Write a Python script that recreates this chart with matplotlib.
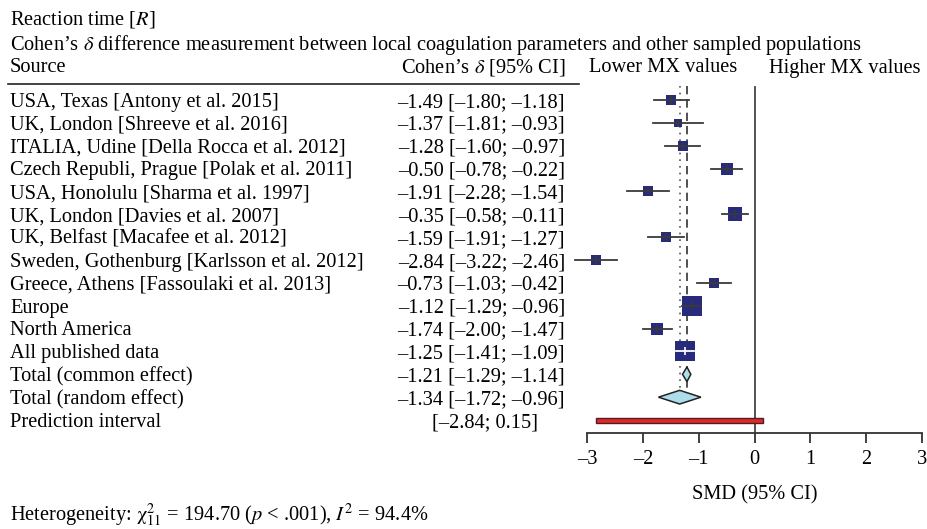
import matplotlib
matplotlib.use("Agg")
import matplotlib.pyplot as plt
import matplotlib.transforms as mtransforms
from matplotlib.patches import Polygon, Rectangle
import numpy as np

plt.rcParams['font.family'] = ['Liberation Serif', 'DejaVu Serif']
plt.rcParams['mathtext.fontset'] = 'stix'

# study rows
sources = ['USA, Texas [Antony et al. 2015]',
           'UK, London [Shreeve et al. 2016]',
           'ITALIA, Udine [Della Rocca et al. 2012]',
           'Czech Republi, Prague [Polak et al. 2011]',
           'USA, Honolulu [Sharma et al. 1997]',
           'UK, London [Davies et al. 2007]',
           'UK, Belfast [Macafee et al. 2012]',
           'Sweden, Gothenburg [Karlsson et al. 2012]',
           'Greece, Athens [Fassoulaki et al. 2013]',
           'Europe',
           'North America',
           'All published data']
est = [-1.49, -1.37, -1.28, -0.50, -1.91, -0.35, -1.59, -2.84, -0.73, -1.12, -1.74, -1.25]
lo = [-1.80, -1.81, -1.60, -0.78, -2.28, -0.58, -1.91, -3.22, -1.03, -1.29, -2.00, -1.41]
hi = [-1.18, -0.93, -0.97, -0.22, -1.54, -0.11, -1.27, -2.46, -0.42, -0.96, -1.47, -1.09]
weight = [10.0, 7.0, 10.0, 14.4, 10.0, 19.6, 12.1, 9.0, 12.1, 40.0, 16.9, 40.0]

# pooled rows
pooled_labels = ['Total (common effect)', 'Total (random effect)']
pooled_est = [-1.21, -1.34]
pooled_lo = [-1.29, -1.72]
pooled_hi = [-1.14, -0.96]

pred_lo, pred_hi = -2.84, 0.15

W, H = 928, 529
fig = plt.figure(figsize=(W / 100, H / 100), dpi=100)

def fx(px):
    return px / W

def fy(py):
    return 1 - py / H

row0, rowh = 100, 22.86
ax_top, ax_bot = 85, 433
ax = fig.add_axes([fx(587), fy(ax_bot), fx(922) - fx(587), fy(ax_top) - fy(ax_bot)])
ax.set_xlim(-3, 3)
ax.set_ylim(-(ax_bot - row0) / rowh, -(ax_top - row0) / rowh)
for s in ['top', 'right', 'left']:
    ax.spines[s].set_visible(False)
ax.spines['bottom'].set_color('#333333')
ax.spines['bottom'].set_linewidth(1.3)
ax.set_yticks([])
fs = 14.7
ticks = np.arange(-3, 4)
ax.set_xticks(ticks)
ax.set_xticklabels([str(t).replace('-', '\u2013') for t in ticks], fontsize=fs)
ax.tick_params(axis='x', length=7, width=1.3, color='#333333', pad=5)
ax.set_xlabel('SMD (95% CI)', fontsize=fs, labelpad=12)

n = len(sources)
ys = -np.arange(n)
ytop = 0.55
# reference lines
ax.plot([0, 0], [ytop, ax.get_ylim()[0]], color='#444444', lw=1.3, zorder=1)
ax.plot([pooled_est[0]] * 2, [ytop + 0.05, -12.65], color='#333333', lw=1.2,
        dashes=(5, 3), zorder=1)
ax.plot([pooled_est[1]] * 2, [ytop + 0.05, -12.65], color='#555555', lw=1.2,
        dashes=(1, 3), zorder=1)

# squares, CI lines
for i in range(n):
    y = ys[i]
    side = np.sqrt(weight[i]) * 3.16 * 0.72  # points
    ax.scatter([est[i]], [y], marker='s', s=side ** 2, color='#282a7c', zorder=3,
               linewidths=0)
    c = 'white' if i == n - 1 else '#3a3a3a'
    ax.plot([lo[i], hi[i]], [y, y], color=c, lw=1.3, zorder=4, clip_on=False)
    ax.plot([est[i]], [y], marker='|', ms=6, mew=1.2, color=c, zorder=4)

# diamonds
for j in range(2):
    y = -(n + j)
    dh = 0.32 if j == 0 else 0.3
    poly = Polygon([[pooled_lo[j], y], [pooled_est[j], y + dh], [pooled_hi[j], y],
                    [pooled_est[j], y - dh]], closed=True, facecolor='#abdeea',
                   edgecolor='#222222', lw=1.1, zorder=3)
    ax.add_patch(poly)

# prediction interval
yp = -(n + 2)
ax.add_patch(Rectangle((pred_lo, yp - 0.11), pred_hi - pred_lo, 0.22,
                       facecolor='#e3262b', edgecolor='#4a2020', lw=1.0, zorder=3))

# text columns
tr = mtransforms.blended_transform_factory(fig.transFigure, ax.transData)
labels = sources + pooled_labels + ['Prediction interval']
ci_txt = []
for e, l, h in zip(est + pooled_est, lo + pooled_lo, hi + pooled_hi):
    ci_txt.append(f'{e:.2f} [{l:.2f}; {h:.2f}]'.replace('-', '\u2013'))
ci_txt.append(f'[{pred_lo:.2f}; {pred_hi:.2f}]'.replace('-', '\u2013'))
for k, (lab, ct) in enumerate(zip(labels, ci_txt)):
    y = -k - 0.1
    ax.text(fx(10), y, lab, transform=tr, fontsize=fs, va='center', ha='left')
    xr = 538 if k == len(labels) - 1 else 565
    ax.text(fx(xr), y, ct, transform=tr, fontsize=fs, va='center', ha='right')

# headers
fig.text(fx(10), fy(19), 'Reaction time [$\\it{R}$]', fontsize=fs, va='center')
fig.text(fx(10), fy(45), 'Cohen\u2019s $\\delta$ difference measurement between local '
         'coagulation parameters and other sampled populations', fontsize=fs, va='center')
fig.text(fx(10), fy(68), 'Source', fontsize=fs, va='center')
fig.text(fx(565), fy(68), 'Cohen\u2019s $\\delta$ [95% CI]', fontsize=fs, va='center', ha='right')
fig.text(fx(663), fy(68), 'Lower MX values', fontsize=fs, va='center', ha='center')
fig.text(fx(845), fy(68), 'Higher MX values', fontsize=fs, va='center', ha='center')
fig.add_artist(plt.Line2D([fx(8), fx(579)], [fy(84), fy(84)], color='#222222', lw=1.2))

fig.text(fx(10), fy(515), 'Heterogeneity: $\\mathrm{\\chi}^2_{11}$ = 194.70 ($\\it{p}$ < .001), '
         '$\\it{I}^2$ = 94.4%', fontsize=fs, va='center')

fig.savefig('out.png', dpi=100)
